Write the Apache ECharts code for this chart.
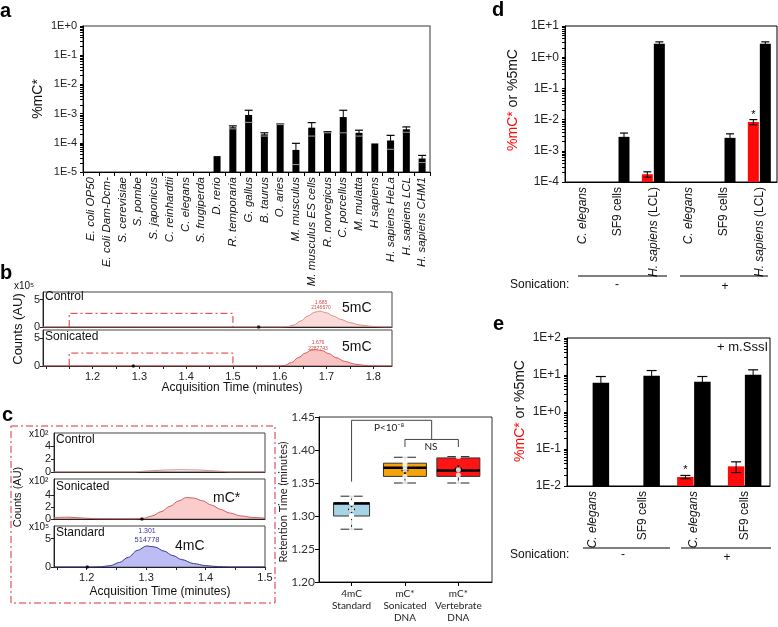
<!DOCTYPE html>
<html><head><meta charset="utf-8">
<script src="https://cdn.jsdelivr.net/npm/echarts@6/dist/echarts.min.js"></script>
<style>html,body{margin:0;padding:0;background:#fff}#c{width:778px;height:627px}</style>
</head><body><div id="c"></div>
<script>
// ---------- DATA ----------
// Panel a
const aCategories = ['E. coli OP50','E. coli Dam-Dcm-','S. cerevisiae','S. pombe','S. japonicus','C. reinhardtii','C. elegans','S. frugiperda','D. rerio','R. temporaria','G. gallus','B. taurus','O. aries','M. musculus','M. musculus ES cells','R. norvegicus','C. porcellus','M. mulatta','H sapiens','H. sapiens HeLa','H. sapiens LCL','H. sapiens CHM1'];
const aValues = [null,null,null,null,null,null,null,null,3.5e-5,3.4e-4,9.0e-4,1.95e-4,4.3e-4,5.7e-5,3.3e-4,2.3e-4,7.6e-4,2.2e-4,9.5e-5,1.2e-4,2.9e-4,2.9e-5];
const aErrors = [null,null,null,null,null,null,null,null,0,0.4e-4,4.0e-4,0.25e-4,0.1e-4,3.9e-5,1.6e-4,0.1e-4,5.4e-4,0.5e-4,0,0.6e-4,0.6e-4,0.8e-5];
const aTickLabels = ['1E-5','1E-4','1E-3','1E-2','1E-1','1E+0'];

// Panel b (counts x10^5)
const bTickValues = [1.2,1.3,1.4,1.5,1.6,1.7,1.8];
const bTickMarks = [1.1,1.15,1.2,1.25,1.3,1.35,1.4,1.45,1.5,1.55,1.6,1.65,1.7,1.75,1.8];
const bYTicks = [0,5];
const bControlTrace = [[1.094,0],[1.40,0],[1.60,0],[1.615,0.05],[1.63,0.35],[1.645,1.1],[1.66,2.0],[1.675,2.7],[1.686,2.9],[1.70,2.6],[1.715,2.0],[1.73,1.4],[1.75,0.8],[1.77,0.4],[1.79,0.18],[1.81,0.06],[1.825,0],[1.84,0]];
const bSonicatedTrace = [[1.094,0],[1.40,0],[1.595,0],[1.61,0.1],[1.625,0.6],[1.64,1.5],[1.655,2.3],[1.667,2.8],[1.677,2.9],[1.69,2.75],[1.705,2.2],[1.72,1.5],[1.74,0.8],[1.76,0.35],[1.78,0.12],[1.80,0.03],[1.82,0],[1.84,0]];
const bControlBox = [[1.15,0],[1.15,2.5],[1.5,2.5],[1.5,0]];
const bSonicatedBox = [[1.15,0],[1.15,2.3],[1.5,2.3],[1.5,0]];
const bControlDots = [[1.555,0]];
const bSonicatedDots = [[1.287,0]];

// Panel c chromatograms (Control/Sonicated x10^2, Standard x10^5)
const cTickValues = [1.2,1.3,1.4,1.5];
const cTickMarks = [1.15,1.2,1.25,1.3,1.35,1.4,1.45,1.5];
const cSmallYTicks = [0,2,4];
const cStdYTicks = [0,5];
const cControlTrace = [[1.145,0],[1.28,0],[1.30,0.15],[1.33,0.3],[1.36,0.35],[1.39,0.3],[1.42,0.15],[1.44,0],[1.5,0]];
const cSonicatedTrace = [[1.145,0.25],[1.17,0.3],[1.195,0.15],[1.22,0.03],[1.28,0],[1.295,0.1],[1.31,0.5],[1.325,1.2],[1.34,2.1],[1.355,3.0],[1.368,3.55],[1.38,3.45],[1.395,3.0],[1.41,2.3],[1.425,1.6],[1.44,1.0],[1.46,0.5],[1.48,0.25],[1.5,0.15]];
const cStandardTrace = [[1.145,0],[1.21,0],[1.225,0.05],[1.24,0.25],[1.255,0.8],[1.27,1.7],[1.285,2.9],[1.301,3.7],[1.315,3.5],[1.33,2.8],[1.345,2.0],[1.36,1.3],[1.38,0.6],[1.40,0.25],[1.42,0.07],[1.44,0],[1.5,0]];
const cSonicatedDots = [[1.293,0]];
const cStandardDots = [[1.201,0]];

// Panel c boxplot (retention time, minutes)
const cBoxCategories = ['4mC\nStandard','mC*\nSonicated\nDNA','mC*\nVertebrate\nDNA'];
const cBoxPositions = [1,2,3];
const cBoxStats = [[1.28,1.30,1.319,1.32,1.33],[1.35,1.36,1.373,1.38,1.389],[1.35,1.36,1.369,1.388,1.39]];
const cBoxMeans = [1.31,1.369,1.372];
const cBoxPoints = [[1.33,1.32,1.32,1.32,1.31,1.30,1.30,1.30,1.30,1.29,1.28],[1.389,1.383,1.38,1.375,1.37,1.36,1.35],[1.39,1.39,1.37,1.362,1.35]];
const cBoxYTicks = [1.20,1.25,1.30,1.35,1.40,1.45];
const cBracketP = [[1,1.352],[1,1.445],[2.5,1.445],[2.5,1.416]];
const cBracketNS = [[2,1.4045],[2,1.416],[3,1.416],[3,1.4045]];

// Panel d
const dCategories = ['C. elegans','SF9 cells','H. sapiens (LCL)','C. elegans','SF9 cells','H. sapiens (LCL)'];
const dMcStar = [null,null,1.77e-4,null,null,8.4e-3];
const dMcStarErr = [null,null,0.35e-4,null,null,1.6e-3];
const d5mC = [null,2.8e-3,2.7,null,2.6e-3,2.7];
const d5mCErr = [null,0.9e-3,0.4,null,0.9e-3,0.4];
const dStars = ['','','','','','*'];
const dTickLabels = ['1E-4','1E-3','1E-2','1E-1','1E+0','1E+1'];

// Panel e
const eCategories = ['C. elegans','SF9 cells','C. elegans','SF9 cells'];
const eMcStar = [null,null,0.0175,0.034];
const eMcStarErr = [null,null,0.0018,0.011];
const e5mC = [6.2,9.5,6.6,10.1];
const e5mCErr = [2.9,3.7,2.5,3.7];
const eStars = ['','','*',''];
const eTickLabels = ['1E-2','1E-1','1E+0','1E+1','1E+2'];

// ---------- STYLE / HELPERS ----------
const F = '"Liberation Sans", "DejaVu Sans", Arial, sans-serif';
const LATO = 'Lato, "DejaVu Sans", sans-serif';
const RED = '#ff0a0a';
const boxWidthsPx = [36,43,43];
const boxColors = ['#a6d4e6','#f5a30c','#ff1414'];

function logMarks(minExp, maxExp) {
  const out = [];
  for (let e = minExp; e < maxExp; e++) for (let k = 1; k < 10; k++) out.push(k * Math.pow(10, e));
  out.push(Math.pow(10, maxExp));
  return out;
}
function logFormatter(labels, minExp) {
  return v => labels[Math.round(Math.log10(v)) - minExp] || '';
}
function barData(vals, errs) {
  const out = [];
  vals.forEach((v, i) => { if (v != null) out.push([i, v, errs[i] || 0]); });
  return out;
}
function makeBars(o) {
  return function (params, api) {
    const i = api.value(0), v = api.value(1), e = api.value(2);
    const top = api.coord([i, v]);
    const base = api.coord([i, o.yMin]);
    const cx = top[0] + o.offset;
    const ch = [{type: 'rect', shape: {x: cx - o.width / 2, y: top[1], width: o.width, height: base[1] - top[1]}, style: {fill: o.color}}];
    if (e > 0) {
      const hi = api.coord([i, v + e])[1];
      const lv = v - e;
      const lo = lv > o.yMin ? api.coord([i, lv])[1] : base[1];
      const hw = o.cap / 2;
      ch.push({type: 'line', shape: {x1: cx, y1: hi, x2: cx, y2: lo}, style: {stroke: '#000', lineWidth: 1}});
      ch.push({type: 'line', shape: {x1: cx - hw, y1: hi, x2: cx + hw, y2: hi}, style: {stroke: '#000', lineWidth: 1.2}});
      ch.push({type: 'line', shape: {x1: cx - hw, y1: lo, x2: cx + hw, y2: lo}, style: {stroke: o.lowColor, lineWidth: 1}});
    }
    const star = o.stars && o.stars[i];
    if (star) {
      const yy = api.coord([i, v + (e || 0)])[1];
      ch.push({type: 'text', style: {text: star, x: cx, y: yy - 5, font: '11px ' + F, fill: '#000', textAlign: 'center', textVerticalAlign: 'middle'}});
    }
    return {type: 'group', children: ch};
  };
}
function T(text, x, y, o) {
  o = o || {};
  const st = {text: text, x: 0, y: 0, font: (o.style || 'normal') + ' ' + (o.weight || 'normal') + ' ' + (o.size || 12) + 'px ' + (o.family || F), fill: o.color || '#111', textAlign: o.align || 'center', textVerticalAlign: 'middle'};
  if (o.rich) st.rich = o.rich;
  return {type: 'text', x: x, y: y, rotation: o.rot || 0, z: 100, style: st};
}
function L(x1, y1, x2, y2, c, w) {
  return {type: 'line', z: 100, shape: {x1, y1, x2, y2}, style: {stroke: c || '#000', lineWidth: w || 1}};
}
const axisBlack = {lineStyle: {color: '#000', width: 1}};
function traceSeries(data, xi, line, fill) {
  return {type: 'line', xAxisIndex: xi, yAxisIndex: xi, data: data, showSymbol: false, smooth: 0.35, smoothMonotone: 'x',
    lineStyle: {color: line, width: 1}, areaStyle: fill ? {color: fill, origin: 'start'} : undefined, z: 3, silent: true};
}
function dotSeries(data, xi) {
  return {type: 'scatter', xAxisIndex: xi, yAxisIndex: xi, data: data, symbolSize: 3.5, itemStyle: {color: '#000'}, z: 4, silent: true};
}
function boxLine(data, xi) {
  return {type: 'line', xAxisIndex: xi, yAxisIndex: xi, data: data, showSymbol: false, lineStyle: {color: '#e23030', width: 1, type: [7, 3, 2, 3]}, z: 5, silent: true};
}
function valueX(gi, min, max, labels, marks) {
  return {gridIndex: gi, type: 'value', min: min, max: max, splitLine: {show: false},
    axisLine: {lineStyle: {color: '#222'}},
    axisTick: marks ? {show: true, customValues: marks, length: 3, lineStyle: {color: '#222'}} : {show: false},
    axisLabel: labels ? {show: true, customValues: labels, formatter: v => v.toFixed(1), fontSize: 11, color: '#222', margin: 5} : {show: false}};
}
function valueY(gi, max, ticks) {
  return {gridIndex: gi, type: 'value', min: 0, max: max, splitLine: {show: false},
    axisLine: {show: true, lineStyle: {color: '#222'}},
    axisTick: {show: true, customValues: ticks, length: 3, lineStyle: {color: '#222'}},
    axisLabel: {customValues: ticks, formatter: v => String(v), fontSize: 11, color: '#222', margin: 3}};
}
function catLabelRich(v) { return v.replace(/^(C\. elegans|H\. sapiens)/, '{i|$1}'); }

// ---------- CHART ----------
const chart = echarts.init(document.getElementById('c'), null, {renderer: 'canvas'});
const option = {
  animation: false,
  textStyle: {fontFamily: F, color: '#111'},
  grid: [
    {left: 83, top: 26, width: 347, height: 146, show: true, borderColor: '#7a7a7a', borderWidth: 1.5, backgroundColor: 'transparent'},
    {left: 43, top: 292, width: 349, height: 35, show: true, borderColor: '#444', borderWidth: 1, backgroundColor: 'transparent'},
    {left: 43, top: 330, width: 349, height: 36, show: true, borderColor: '#444', borderWidth: 1, backgroundColor: 'transparent'},
    {left: 54, top: 433, width: 211, height: 39, show: true, borderColor: '#444', borderWidth: 1, backgroundColor: 'transparent'},
    {left: 54, top: 479, width: 211, height: 40, show: true, borderColor: '#444', borderWidth: 1, backgroundColor: 'transparent'},
    {left: 54, top: 526, width: 211, height: 41, show: true, borderColor: '#444', borderWidth: 1, backgroundColor: 'transparent'},
    {left: 319, top: 417, width: 173, height: 165, show: true, borderColor: '#333', borderWidth: 1, backgroundColor: 'transparent'},
    {left: 565, top: 26, width: 212, height: 156, show: true, borderColor: '#000', borderWidth: 1, backgroundColor: 'transparent'},
    {left: 567, top: 338, width: 203, height: 148, show: true, borderColor: '#000', borderWidth: 1, backgroundColor: 'transparent'}
  ],
  xAxis: [
    {gridIndex: 0, type: 'category', data: aCategories, axisLine: axisBlack,
      axisTick: {show: true, length: 4, lineStyle: {color: '#000'}},
      axisLabel: {interval: 0, rotate: 90, fontStyle: 'italic', fontSize: 11.5, color: '#111', margin: 5}},
    valueX(1, 1.094, 1.84, null, null),
    valueX(2, 1.094, 1.84, bTickValues, bTickMarks),
    valueX(3, 1.145, 1.5, null, null),
    valueX(4, 1.145, 1.5, null, null),
    valueX(5, 1.145, 1.5, cTickValues, cTickMarks),
    {gridIndex: 6, type: 'value', min: 0.39, max: 3.63, splitLine: {show: false}, axisLine: axisBlack,
      axisTick: {show: true, customValues: cBoxPositions, length: 4, lineStyle: {color: '#000'}},
      axisLabel: {customValues: cBoxPositions, formatter: v => cBoxCategories[Math.round(v) - 1], fontFamily: LATO, fontSize: 10, lineHeight: 12, color: '#222', margin: 6}},
    {gridIndex: 7, type: 'category', data: dCategories, axisLine: axisBlack, axisTick: {show: false},
      axisLabel: {interval: 0, rotate: 90, fontSize: 12, color: '#111', margin: 5, formatter: catLabelRich, rich: {i: {fontStyle: 'italic', fontSize: 12}}}},
    {gridIndex: 8, type: 'category', data: eCategories, axisLine: axisBlack, axisTick: {show: false},
      axisLabel: {interval: 0, rotate: 90, fontSize: 12, color: '#111', margin: 5, formatter: catLabelRich, rich: {i: {fontStyle: 'italic', fontSize: 12}}}}
  ],
  yAxis: [
    {gridIndex: 0, type: 'log', logBase: 10, min: 1e-5, max: 1, splitNumber: 5, splitLine: {show: false}, axisLine: {show: true, lineStyle: {color: '#000'}},
      axisTick: {show: true, customValues: logMarks(-5, 0), length: 3, lineStyle: {color: '#000'}},
      axisLabel: {formatter: logFormatter(aTickLabels, -5), fontSize: 11, color: '#222', margin: 6}},
    valueY(1, 6.4, bYTicks),
    valueY(2, 6.4, bYTicks),
    valueY(3, 6, cSmallYTicks),
    valueY(4, 6.6, cSmallYTicks),
    valueY(5, 7.2, cStdYTicks),
    {gridIndex: 6, type: 'value', min: 1.2, max: 1.45, interval: 0.05, splitLine: {show: false}, axisLine: {show: true, lineStyle: {color: '#000'}},
      axisTick: {show: true, length: 4, lineStyle: {color: '#000'}},
      axisLabel: {customValues: cBoxYTicks, formatter: v => v.toFixed(2), fontFamily: LATO, fontSize: 12, color: '#333', margin: 4}},
    {gridIndex: 7, type: 'log', logBase: 10, min: 1e-4, max: 10, splitNumber: 5, splitLine: {show: false}, axisLine: {show: true, lineStyle: {color: '#000'}},
      axisTick: {show: true, customValues: logMarks(-4, 1), length: 3, lineStyle: {color: '#000'}},
      axisLabel: {formatter: logFormatter(dTickLabels, -4), fontSize: 12, color: '#222', margin: 6}},
    {gridIndex: 8, type: 'log', logBase: 10, min: 1e-2, max: 100, splitNumber: 4, splitLine: {show: false}, axisLine: {show: true, lineStyle: {color: '#000'}},
      axisTick: {show: true, customValues: logMarks(-2, 2), length: 3, lineStyle: {color: '#000'}},
      axisLabel: {formatter: logFormatter(eTickLabels, -2), fontSize: 12, color: '#222', margin: 6}}
  ],
  series: [
    // a
    {type: 'custom', xAxisIndex: 0, yAxisIndex: 0, data: barData(aValues, aErrors), encode: {x: 0, y: 1},
      renderItem: makeBars({offset: 0, width: 7, color: '#000', lowColor: '#9a9a9a', yMin: 1e-5, cap: 8}), silent: true},
    // b
    traceSeries(bControlTrace, 1, '#e58a8a', 'rgba(244,160,160,0.55)'),
    boxLine(bControlBox, 1),
    dotSeries(bControlDots, 1),
    traceSeries(bSonicatedTrace, 2, '#d95858', 'rgba(240,115,115,0.6)'),
    boxLine(bSonicatedBox, 2),
    dotSeries(bSonicatedDots, 2),
    // c chromatograms
    traceSeries(cControlTrace, 3, '#d88a8a', null),
    traceSeries(cSonicatedTrace, 4, '#cf6060', 'rgba(244,150,150,0.7)'),
    dotSeries(cSonicatedDots, 4),
    traceSeries(cStandardTrace, 5, '#3a3a9a', 'rgba(130,130,232,0.75)'),
    dotSeries(cStandardDots, 5),
    // c boxplot
    {type: 'custom', xAxisIndex: 6, yAxisIndex: 6, silent: true,
      data: cBoxStats.map((s, i) => [cBoxPositions[i]].concat(s).concat([cBoxMeans[i]])),
      encode: {x: 0, y: [1, 2, 3, 4, 5]},
      renderItem: function (params, api) {
        const x = api.value(0);
        const y = v => api.coord([x, v])[1];
        const cx = api.coord([x, api.value(3)])[0];
        const w = boxWidthsPx[params.dataIndex];
        const mn = y(api.value(1)), q1 = y(api.value(2)), md = y(api.value(3)), q3 = y(api.value(4)), mx = y(api.value(5)), mean = y(api.value(6));
        const k = '#222', cap = 11;
        return {type: 'group', children: [
          {type: 'line', shape: {x1: cx, y1: mx, x2: cx, y2: q3}, style: {stroke: k, lineWidth: 1}},
          {type: 'line', shape: {x1: cx, y1: q1, x2: cx, y2: mn}, style: {stroke: k, lineWidth: 1}},
          {type: 'line', shape: {x1: cx - cap, y1: mx, x2: cx + cap, y2: mx}, style: {stroke: k, lineWidth: 1}},
          {type: 'line', shape: {x1: cx - cap, y1: mn, x2: cx + cap, y2: mn}, style: {stroke: k, lineWidth: 1}},
          {type: 'rect', shape: {x: cx - w / 2, y: q3, width: w, height: q1 - q3}, style: {fill: boxColors[params.dataIndex], stroke: '#333', lineWidth: 1}},
          {type: 'line', shape: {x1: cx - w / 2, y1: md, x2: cx + w / 2, y2: md}, style: {stroke: '#000', lineWidth: 2.5}},
          {type: 'line', shape: {x1: cx - 3.5, y1: mean, x2: cx + 3.5, y2: mean}, style: {stroke: '#000', lineWidth: 1.5}},
          {type: 'line', shape: {x1: cx, y1: mean - 3.5, x2: cx, y2: mean + 3.5}, style: {stroke: '#000', lineWidth: 1.5}}
        ]};
      }},
    {type: 'scatter', xAxisIndex: 6, yAxisIndex: 6, silent: true, z: 6, symbol: 'emptyCircle', symbolSize: 5,
      itemStyle: {color: 'rgba(255,255,255,0)', borderColor: '#555', borderWidth: 1},
      data: [].concat.apply([], cBoxPoints.map((pts, i) => pts.map(v => [cBoxPositions[i], v])))},
    {type: 'line', xAxisIndex: 6, yAxisIndex: 6, data: cBracketP, showSymbol: false, lineStyle: {color: '#444', width: 1}, silent: true},
    {type: 'line', xAxisIndex: 6, yAxisIndex: 6, data: cBracketNS, showSymbol: false, lineStyle: {color: '#444', width: 1}, silent: true},
    // d
    {type: 'custom', xAxisIndex: 7, yAxisIndex: 7, data: barData(dMcStar, dMcStarErr), encode: {x: 0, y: 1}, silent: true,
      renderItem: makeBars({offset: -6, width: 11, color: RED, lowColor: '#000', yMin: 1e-4, cap: 8, stars: dStars})},
    {type: 'custom', xAxisIndex: 7, yAxisIndex: 7, data: barData(d5mC, d5mCErr), encode: {x: 0, y: 1}, silent: true,
      renderItem: makeBars({offset: 6, width: 11, color: '#000', lowColor: '#000', yMin: 1e-4, cap: 8})},
    // e
    {type: 'custom', xAxisIndex: 8, yAxisIndex: 8, data: barData(eMcStar, eMcStarErr), encode: {x: 0, y: 1}, silent: true,
      renderItem: makeBars({offset: -8.5, width: 16.5, color: RED, lowColor: '#000', yMin: 1e-2, cap: 10, stars: eStars})},
    {type: 'custom', xAxisIndex: 8, yAxisIndex: 8, data: barData(e5mC, e5mCErr), encode: {x: 0, y: 1}, silent: true,
      renderItem: makeBars({offset: 8.5, width: 16.5, color: '#000', lowColor: '#000', yMin: 1e-2, cap: 10})}
  ],
  graphic: {elements: [
    // panel letters
    T('a', 0, 11, {weight: 'bold', size: 20, align: 'left', color: '#000'}),
    T('b', 0, 273, {weight: 'bold', size: 20, align: 'left', color: '#000'}),
    T('c', 2, 415, {weight: 'bold', size: 20, align: 'left', color: '#000'}),
    T('d', 492, 10, {weight: 'bold', size: 20, align: 'left', color: '#000'}),
    T('e', 493, 324, {weight: 'bold', size: 20, align: 'left', color: '#000'}),
    // a
    T('%mC*', 38, 99, {size: 14, rot: Math.PI / 2}),
    // b
    T('x10⁵', 14, 286, {size: 10, align: 'left'}),
    T('Control', 45, 297, {size: 12, align: 'left'}),
    T('Sonicated', 45, 337, {size: 12, align: 'left'}),
    T('5mC', 342, 308, {size: 14, align: 'left'}),
    T('5mC', 342, 347, {size: 14, align: 'left'}),
    T('1.685', 321, 303, {size: 5, color: '#d04848'}),
    T('2146670', 321, 308, {size: 5, color: '#d04848'}),
    T('1.676', 318, 343, {size: 5, color: '#d04848'}),
    T('2287743', 318, 348.5, {size: 5, color: '#d04848'}),
    T('Counts (AU)', 18, 329, {size: 13, rot: Math.PI / 2}),
    T('Acquisition Time (minutes)', 232, 388, {size: 12}),
    // c
    {type: 'rect', z: 90, shape: {x: 11, y: 426, width: 264, height: 177}, style: {fill: 'none', stroke: '#e03030', lineWidth: 1, lineDash: [7, 3, 2, 3]}},
    T('x10²', 29, 434, {size: 10, align: 'left'}),
    T('x10²', 29, 481, {size: 10, align: 'left'}),
    T('x10⁵', 29, 527, {size: 10, align: 'left'}),
    T('Control', 56, 440, {size: 12, align: 'left'}),
    T('Sonicated', 56, 487, {size: 12, align: 'left'}),
    T('Standard', 56, 533, {size: 12, align: 'left'}),
    T('mC*', 213, 498, {size: 14, align: 'left'}),
    T('4mC', 175, 546, {size: 14, align: 'left'}),
    T('1.301', 147, 531.5, {size: 7, color: '#3a3a9a'}),
    T('514778', 147, 540, {size: 7.5, color: '#3a3a9a'}),
    T('Counts (AU)', 18, 497, {size: 11, rot: Math.PI / 2}),
    T('Acquisition Time (minutes)', 160, 592, {size: 12}),
    T('Retention Time (minutes)', 283, 502, {size: 11, family: LATO, rot: Math.PI / 2, color: '#222'}),
    T('P<10⁻⁸', 389, 428, {size: 10, family: LATO, color: '#222'}),
    T('NS', 431, 447, {size: 10, family: LATO, color: '#222'}),
    // d
    T('{r|%mC*}{k| or %5mC}', 513, 100, {size: 14, rot: Math.PI / 2, rich: {r: {fill: RED, fontSize: 14, fontFamily: F}, k: {fill: '#111', fontSize: 14, fontFamily: F}}}),
    T('Sonication:', 510, 285, {size: 12, align: 'left'}),
    T('-', 617, 285, {size: 12}),
    T('+', 725, 287, {size: 12}),
    L(578, 276, 667, 276), L(680, 276, 768, 276),
    // e
    T('{r|%mC*}{k| or %5mC}', 520, 411, {size: 14, rot: Math.PI / 2, rich: {r: {fill: RED, fontSize: 14, fontFamily: F}, k: {fill: '#111', fontSize: 14, fontFamily: F}}}),
    T('+ m.SssI', 768, 347, {size: 13, align: 'right'}),
    T('Sonication:', 510, 555, {size: 12, align: 'left'}),
    T('-', 623, 555, {size: 12}),
    T('+', 727, 558, {size: 12}),
    L(583, 548, 670, 548), L(681, 548, 771, 548)
  ]}
};
chart.setOption(option);
</script>
</body></html>
